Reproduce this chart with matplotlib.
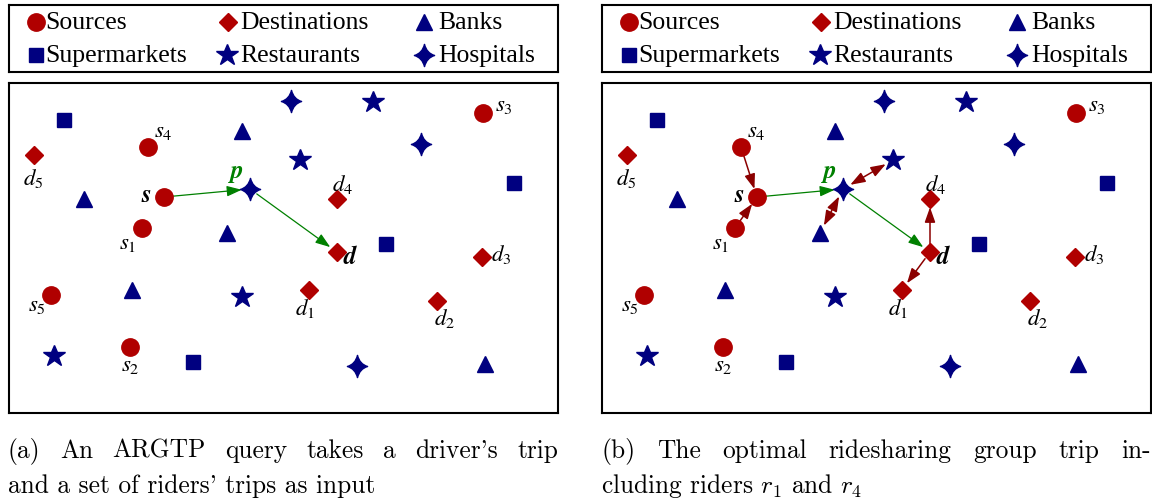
import matplotlib.pyplot as plt
from matplotlib.path import Path

plt.rcParams['mathtext.fontset'] = 'stix'

RED = '#b00000'
NAVY = '#000080'
GREEN = '#008000'
ARROW = '#8b0000'

# map positions (pixels inside panel a)
src_names = ['s', 's1', 's2', 's3', 's4', 's5']
src_x = [164, 142, 130, 483, 148, 51]
src_y = [197, 228, 347, 113, 147, 295]
src_lx = [146, 128, 130, 504, 163, 37]
src_ly = [195, 242, 364, 105, 130, 305]

dst_names = ['d', 'd1', 'd2', 'd3', 'd4', 'd5']
dst_x = [337, 309, 437, 482, 337, 34]
dst_y = [252, 290, 301, 257, 199, 155]
dst_lx = [350, 305, 445, 501, 343, 33]
dst_ly = [257, 308, 318, 255, 184, 178]

bank_x = [242, 84, 227, 132, 485]
bank_y = [131, 199, 233, 290, 364]
market_x = [64, 514, 386, 193]
market_y = [120, 183, 244, 362]
rest_x = [373, 300, 242, 54]
rest_y = [102, 160, 297, 356]
hosp_x = [291, 421, 250, 357]
hosp_y = [101, 144, 189, 366]
p_label = (237, 171)

legend_names = ['Sources', 'Destinations', 'Banks',
                'Supermarkets', 'Restaurants', 'Hospitals']

captions = [
    ["(a) An ARGTP query takes a driver's trip",
     "and a set of riders' trips as input"],
    ["(b) The optimal ridesharing group trip in-",
     "cluding riders $r_1$ and $r_4$"],
]

# hospital marker: four pointed star with concave sides
c = 0.22
hv = [(0, 1.1), (c, c), (1, 0), (c, -c), (0, -1.1),
      (-c, -c), (-1, 0), (-c, c), (0, 1.1), (0, 1.1)]
hc = [Path.MOVETO] + [Path.CURVE3] * 8 + [Path.CLOSEPOLY]
HOSP = Path(hv, hc)

pts = {}
for n, x, y in zip(src_names, src_x, src_y):
    pts[n] = (x, y)
for n, x, y in zip(dst_names, dst_x, dst_y):
    pts[n] = (x, y)
pts['p'] = (hosp_x[2], hosp_y[2])
pts['r2'] = (rest_x[1], rest_y[1])
pts['b3'] = (bank_x[2], bank_y[2])

driver_route = [('s', 'p'), ('p', 'd')]
group_route = [('s4', 's', False), ('s1', 's', False), ('p', 'r2', True),
               ('p', 'b3', True), ('d', 'd4', False), ('d', 'd1', False)]

styles = [
    dict(marker='o', color=RED, ms=12.5),
    dict(marker='D', color=RED, ms=9.5),
    dict(marker='^', color=NAVY, ms=11),
    dict(marker='s', color=NAVY, ms=10),
    dict(marker='*', color=NAVY, ms=16.5),
    dict(marker=HOSP, color=NAVY, ms=16),
]

W, H = 1152, 500
fig = plt.figure(figsize=(W / 100, H / 100), dpi=100)


def px_axes(x, y, w, h):
    return fig.add_axes([x / W, 1 - (y + h) / H, w / W, h / H])


def arrow(ax, a, b, color, lw, both=False):
    st = '<|-|>' if both else '-|>'
    ax.annotate('', xy=pts[b], xytext=pts[a],
                arrowprops=dict(arrowstyle=st + ',head_length=0.9,head_width=0.32',
                                color=color, lw=lw, shrinkA=6, shrinkB=6,
                                mutation_scale=10), zorder=2)


def justify(text, x0, x1, y):
    words = text.split(' ')
    ts = [fig.text(0, 1 - y / H, w, fontsize=18.3, family='cmr10',
                   va='baseline', math_fontfamily='cm') for w in words]
    r = fig.canvas.get_renderer()
    ws = [t.get_window_extent(r).width for t in ts]
    gap = (x1 - x0 - sum(ws)) / (len(ws) - 1)
    x = x0
    for t, w in zip(ts, ws):
        t.set_x(x / W)
        x += w + gap


for k, x0 in enumerate([9, 602]):
    # legend box
    lg = px_axes(x0, 5, 549, 67)
    lg.set_xlim(0, 549)
    lg.set_ylim(67, 0)
    lg.set_xticks([])
    lg.set_yticks([])
    for sp in lg.spines.values():
        sp.set_linewidth(1.5)
    mx = [27, 219, 415, 27, 218, 415]
    tx = [36, 231, 429, 36, 231, 429]
    ry = [17, 17, 17, 50, 50, 50]
    for i, name in enumerate(legend_names):
        lg.plot(mx[i], ry[i], linestyle='none', **styles[i])
        lg.text(tx[i], ry[i] + 1, name, fontsize=18.5, family='Liberation Serif',
                va='center', ha='left')

    # map
    ax = px_axes(x0, 83, 549, 330)
    ax.set_xlim(9, 558)
    ax.set_ylim(413, 83)
    ax.set_xticks([])
    ax.set_yticks([])
    for sp in ax.spines.values():
        sp.set_linewidth(1.5)

    groups = [(src_x, src_y), (dst_x, dst_y), (bank_x, bank_y),
              (market_x, market_y), (rest_x, rest_y), (hosp_x, hosp_y)]
    for (gx, gy), st in zip(groups, styles):
        ax.plot(gx, gy, linestyle='none', zorder=3, **st)

    for n, lx, ly in zip(src_names + dst_names, src_lx + dst_lx, src_ly + dst_ly):
        if len(n) == 1:
            ax.text(lx, ly, n, fontsize=18, family='STIXGeneral', style='italic',
                    weight='bold', ha='center', va='center', zorder=4)
        else:
            ax.text(lx, ly, '$%s_{\\mathit{%s}}$' % (n[0], n[1]), fontsize=16.5,
                    ha='center', va='center', zorder=4)
    ax.text(p_label[0], p_label[1], 'p', fontsize=18, family='STIXGeneral',
            style='italic', weight='bold', color=GREEN, ha='center',
            va='center', zorder=4)

    for a, b in driver_route:
        arrow(ax, a, b, GREEN, 0.9)
    if k == 1:
        for a, b, both in group_route:
            arrow(ax, a, b, ARROW, 1.1, both)

    # caption: first line justified, second line ragged
    justify(captions[k][0], x0 - 1, x0 + 549, 458)
    fig.text((x0 - 1) / W, 1 - 493 / H, captions[k][1], fontsize=18.3,
             family='cmr10', va='baseline', math_fontfamily='cm')

fig.savefig('out.png', dpi=100)
